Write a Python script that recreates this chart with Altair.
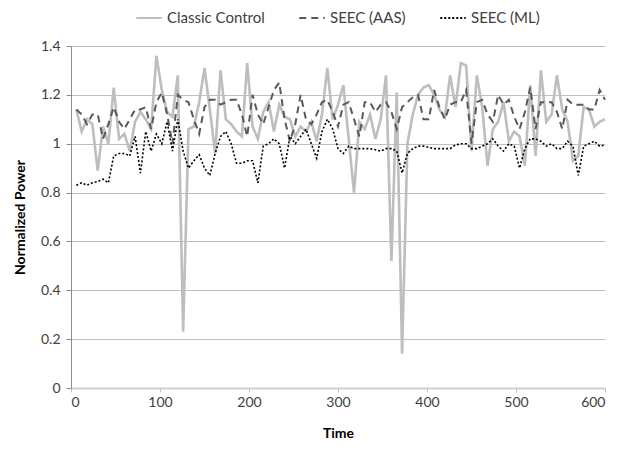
import altair as alt
import pandas as pd

times = list(range(6, 601, 6))

classic = [1.14, 1.05, 1.10, 1.08, 0.89, 1.07, 1.00, 1.23, 1.02, 1.04,
           0.97, 1.09, 1.13, 1.10, 1.06, 1.36, 1.22, 1.13, 1.11, 1.28,
           0.23, 1.06, 1.07, 1.17, 1.31, 1.14, 0.96, 1.30, 1.10, 1.08,
           1.05, 1.03, 1.33, 1.07, 1.02, 1.13, 1.17, 1.05, 1.16, 1.11,
           1.10, 1.03, 1.07, 1.05, 1.09, 1.01, 1.12, 1.31, 1.10, 1.16,
           1.24, 1.02, 0.80, 1.09, 1.06, 1.12, 1.02, 1.10, 1.28, 0.52,
           1.21, 0.14, 1.00, 1.12, 1.20, 1.23, 1.24, 1.20, 1.14, 1.11,
           1.28, 1.15, 1.33, 1.32, 0.97, 1.28, 1.15, 0.91, 1.06, 1.09,
           1.17, 1.01, 1.05, 1.03, 0.91, 1.24, 0.95, 1.30, 1.09, 1.12,
           1.28, 1.14, 1.09, 0.93, 0.95, 1.15, 1.14, 1.07, 1.09, 1.10]

aas = [1.14, 1.12, 1.08, 1.12, 1.12, 1.02, 1.08, 1.15, 1.09, 1.06,
       1.10, 1.14, 1.14, 1.15, 1.06, 1.17, 1.21, 1.12, 1.00, 1.20,
       1.18, 1.17, 1.10, 1.04, 1.15, 1.18, 1.18, 1.16, 1.17, 1.18,
       1.18, 1.12, 1.03, 1.20, 1.12, 1.08, 1.15, 1.22, 1.25, 1.10,
       1.01, 1.08, 1.20, 1.10, 1.08, 1.12, 1.17, 1.18, 1.13, 1.07,
       1.16, 1.17, 1.10, 1.03, 1.17, 1.17, 1.13, 1.16, 1.17, 1.13,
       1.06, 1.15, 1.17, 1.19, 1.20, 1.10, 1.10, 1.22, 1.15, 1.10,
       1.16, 1.17, 1.17, 1.22, 1.00, 1.17, 1.18, 1.12, 1.09, 1.20,
       1.16, 1.18, 1.11, 1.06, 1.13, 1.23, 1.06, 1.17, 1.17, 1.17,
       1.13, 1.06, 1.18, 1.16, 1.16, 1.16, 1.14, 1.14, 1.22, 1.18]

ml = [0.83, 0.84, 0.83, 0.84, 0.845, 0.855, 0.84, 0.95, 0.96, 0.96,
      0.95, 1.03, 0.88, 1.05, 0.97, 1.04, 1.00, 1.09, 0.97, 1.10,
      0.97, 0.90, 0.93, 0.955, 0.90, 0.87, 0.96, 1.03, 1.05, 1.00,
      0.92, 0.92, 0.93, 0.93, 0.84, 0.99, 1.00, 1.02, 1.00, 0.90,
      1.03, 1.00, 1.03, 1.06, 1.00, 0.94, 1.05, 1.10, 1.06, 0.98,
      0.96, 0.99, 0.98, 0.98, 0.98, 0.98, 0.975, 0.97, 0.98, 0.98,
      0.97, 0.88, 0.96, 0.98, 0.99, 0.99, 0.985, 0.98, 0.98, 0.98,
      0.98, 0.995, 1.00, 1.00, 0.98, 0.98, 0.99, 1.00, 1.02, 0.99,
      0.97, 1.00, 0.99, 0.90, 0.98, 1.02, 1.02, 1.01, 0.99, 1.00,
      0.98, 0.98, 1.01, 0.99, 0.87, 0.99, 1.00, 1.01, 0.99, 0.995]

series_names = ["Classic Control", "SEEC (AAS)", "SEEC (ML)"]
series_colors = ["#bebebe", "#595959", "#000000"]
series_dashes = [[1, 0], [7, 5], [2, 2]]
series_widths = [2.6, 2.0, 1.6]
x_ticks = [0, 100, 200, 300, 400, 500, 600]
y_ticks = [0, 0.2, 0.4, 0.6, 0.8, 1.0, 1.2, 1.4]

rows = []
for name, vals in zip(series_names, [classic, aas, ml]):
    for t, v in zip(times, vals):
        rows.append({"Time": t, "Power": v, "Series": name})
df = pd.DataFrame(rows)

FONT = "Lato"

color_scale = alt.Scale(domain=series_names, range=series_colors)
dash_scale = alt.Scale(domain=series_names, range=series_dashes)

legend = alt.Legend(
    title=None, orient="none", legendX=64, legendY=-42,
    direction="horizontal", symbolType="stroke", symbolSize=650,
    symbolStrokeWidth=2, labelFontSize=15, labelFont=FONT,
    labelColor="#404040", columnPadding=30, labelOffset=4, padding=0,
)

x_enc = alt.X(
    "Time:Q",
    scale=alt.Scale(domain=[0, 600], nice=False),
    axis=alt.Axis(
        values=x_ticks, title="Time", grid=False, labelFontSize=14,
        labelFont=FONT, labelColor="#404040", titleFont=FONT,
        titleFontSize=14, titleFontWeight="bold", titleColor="#000000",
        domainColor="#d0d0d0", domainWidth=2, tickColor="#bfbfbf",
        tickSize=4, labelPadding=3, titlePadding=17,
    ),
)
y_enc = alt.Y(
    "Power:Q",
    scale=alt.Scale(domain=[0, 1.4], nice=False),
    axis=alt.Axis(
        values=y_ticks, format="~g", title="Normalized Power",
        grid=True, gridColor="#bfbfbf", gridWidth=1,
        labelFontSize=14, labelFont=FONT, labelColor="#404040",
        titleFont=FONT, titleFontSize=14, titleFontWeight="bold",
        titleColor="#000000", domainColor="#8a8a8a", tickColor="#8a8a8a",
        tickSize=5, labelPadding=6, titlePadding=13,
    ),
)


def series_layer(name, width):
    return (
        alt.Chart(df)
        .transform_filter(alt.datum.Series == name)
        .mark_line(strokeWidth=width)
        .encode(
            x=x_enc,
            y=y_enc,
            color=alt.Color("Series:N", scale=color_scale, legend=legend),
            strokeDash=alt.StrokeDash("Series:N", scale=dash_scale, legend=legend),
        )
    )


layers = [series_layer(n, w) for n, w in zip(series_names, series_widths)]

chart = (
    alt.layer(*layers)
    .properties(
        width=534,
        height=342,
        padding={"left": 63, "top": 38, "right": 12, "bottom": 55},
        autosize=alt.AutoSizeParams(type="none"),
    )
    .configure_view(stroke=None)
)

chart.save("out.html", embed_options={"renderer": "svg", "actions": False})
